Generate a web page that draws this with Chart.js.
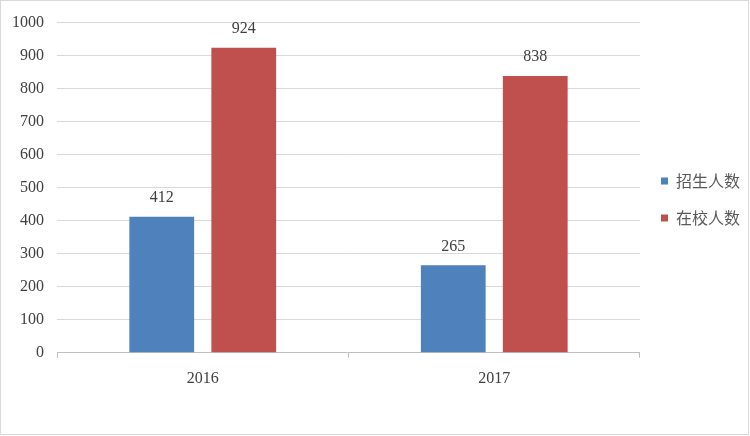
<!DOCTYPE html>
<html>
<head>
<meta charset="utf-8">
<script src="https://cdn.jsdelivr.net/npm/chart.js@4"></script>
<style>
  html, body { margin: 0; padding: 0; background: #fff; }
  #wrap { width: 750px; height: 436px; }
</style>
</head>
<body>
<div id="wrap"><canvas id="chart" width="750" height="436"></canvas></div>
<script>
const years = ["2016", "2017"];
const enrolled = [412, 265];   // 招生人数
const inSchool = [924, 838];   // 在校人数
const yTicks = [0, 100, 200, 300, 400, 500, 600, 700, 800, 900, 1000];

// frame round the whole picture
const frame = {
  id: "frame",
  beforeDraw(chart) {
    const c = chart.ctx;
    c.save();
    c.fillStyle = "#fff";
    c.fillRect(0, 0, chart.width, chart.height);
    c.strokeStyle = "#d9d9d9";
    c.lineWidth = 1;
    c.strokeRect(0.5, 0.5, chart.width - 2, chart.height - 2);
    c.restore();
  },
  // nudge the legend up a little, like the original
  afterLayout(chart) {
    chart.legend.top -= 4;
    chart.legend.bottom -= 4;
  }
};

// value labels above the bars
const valueLabels = {
  id: "valueLabels",
  afterDatasetsDraw(chart) {
    const c = chart.ctx;
    c.save();
    c.font = "16px 'Liberation Serif'";
    c.fillStyle = "#404040";
    c.textAlign = "center";
    c.textBaseline = "bottom";
    chart.data.datasets.forEach((ds, i) => {
      chart.getDatasetMeta(i).data.forEach((bar, j) => {
        c.fillText(ds.data[j], bar.x, bar.y - 11);
      });
    });
    c.restore();
  }
};

new Chart(document.getElementById("chart").getContext("2d"), {
  type: "bar",
  data: {
    labels: years,
    datasets: [
      { label: "招生人数", data: enrolled, backgroundColor: "#4f81bd" },
      { label: "在校人数", data: inSchool, backgroundColor: "#c0504d" }
    ]
  },
  options: {
    responsive: false,
    animation: false,
    categoryPercentage: 0.5626,
    barPercentage: 0.79,
    layout: { padding: { top: 8, left: -1, right: 0, bottom: 37 } },
    plugins: {
      legend: {
        position: "right",
        labels: {
          boxWidth: 7,
          boxHeight: 7,
          padding: 21,
          color: "#595959",
          font: { size: 16, family: "'Noto Sans CJK SC'" }
        }
      },
      tooltip: { enabled: false }
    },
    scales: {
      x: {
        grid: { drawOnChartArea: false, tickLength: 5, color: "#bfbfbf" },
        border: { color: "#bfbfbf" },
        ticks: { color: "#404040", padding: 11, font: { size: 16, family: "'Liberation Serif'" } }
      },
      y: {
        min: 0,
        max: 1000,
        afterBuildTicks(axis) { axis.ticks = yTicks.map(v => ({ value: v })); },
        grid: { color: "#d9d9d9", drawTicks: false },
        border: { display: false },
        ticks: { color: "#404040", padding: 13, font: { size: 16, family: "'Liberation Serif'" },
                 callback: v => String(v) }
      }
    }
  },
  plugins: [frame, valueLabels]
});
</script>
</body>
</html>
